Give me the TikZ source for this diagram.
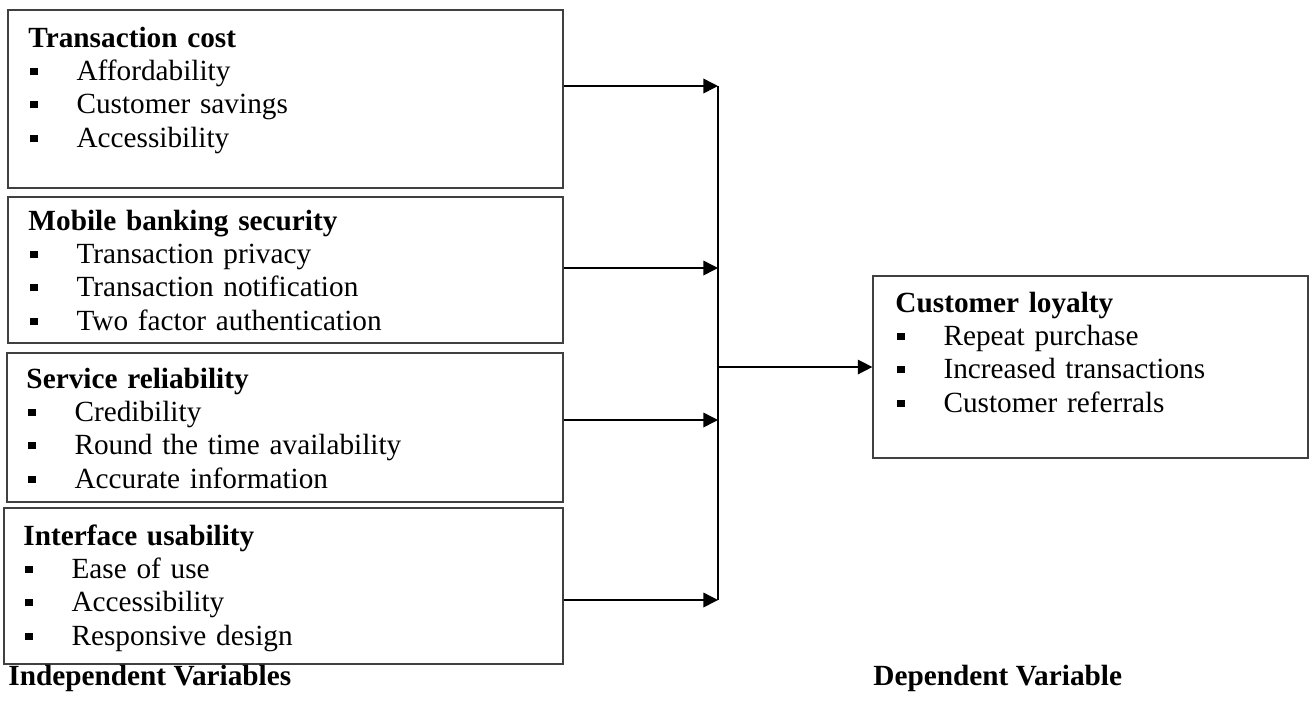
\documentclass[tikz,border=0pt]{standalone}
\usepackage{fontspec}
\setmainfont{Liberation Serif}
\usetikzlibrary{arrows.meta,fit}

% one bulleted line of a variable box
\newcommand{\bitem}[1]{\\\hspace*{0.8pt}\makebox[18.9pt][l]{\rule[2.2pt]{2.9pt}{2.9pt}}#1}

\begin{document}
\begin{tikzpicture}[x=0.41pt, y=-0.41pt,
            var box/.style = {draw=black!75,
                line width=0.5pt,
                inner sep=0pt},
            var text/.style = {anchor=base west,
                inner sep=0pt,
                text width=215pt,
                align=left,
                font=\fontsize{12}{13.7}\selectfont},
            caption/.style = {anchor=base west,
                inner sep=0pt,
                font=\fontsize{12}{13.7}\selectfont\bfseries},
            link/.style = {line width=0.6pt,
                -{Triangle[length=6pt,width=6pt]}}]
        
        \useasboundingbox (0,0) rectangle (1309,702);
        
        % Transaction cost
        \node[var box, fit={(8,10) (563,188)}] (tc) {};
        \node[var text] (tc text) at (28,47) {\textbf{Transaction cost}%
            \bitem{Affordability}\bitem{Customer savings}\bitem{Accessibility}};
        
        % Mobile banking security
        \node[var box, fit={(8,197) (563,343)}] (mbs) {};
        \node[var text] (mbs text) at (28,230) {\textbf{Mobile banking security}%
            \bitem{Transaction privacy}\bitem{Transaction notification}\bitem{Two factor authentication}};
        
        % Service reliability
        \node[var box, fit={(7,353) (563,502)}] (sr) {};
        \node[var text] (sr text) at (26,388) {\textbf{Service reliability}%
            \bitem{Credibility}\bitem{Round the time availability}\bitem{Accurate information}};
        
        % Interface usability
        \node[var box, fit={(4,508) (563,664)}] (iu) {};
        \node[var text] (iu text) at (23,545) {\textbf{Interface usability}%
            \bitem{Ease of use}\bitem{Accessibility}\bitem{Responsive design}};
        
        % Customer loyalty
        \node[var box, fit={(873,276) (1308,458)}] (cl) {};
        \node[var text] (cl text) at (895,312) {\textbf{Customer loyalty}%
            \bitem{Repeat purchase}\bitem{Increased transactions}\bitem{Customer referrals}};
        
        % Captions
        \node[caption] (ind) at (8,685) {Independent Variables};
        \node[caption] (dep) at (873,685) {Dependent Variable};
        
        % Arrows
        \coordinate (j1) at (718,86);
        \coordinate (j2) at (718,268);
        \coordinate (j3) at (718,420);
        \coordinate (j4) at (718,600);
        \draw[link] (tc.east |- j1) -- (j1);
        \draw[link] (mbs.east |- j2) -- (j2);
        \draw[link] (sr.east |- j3) -- (j3);
        \draw[link] (iu.east |- j4) -- (j4);
        \draw[line width=0.6pt] (j1) -- (j4);
        \draw[link] (j1 |- cl.west) -- (cl.west);
        
        \end{tikzpicture}
\end{document}
